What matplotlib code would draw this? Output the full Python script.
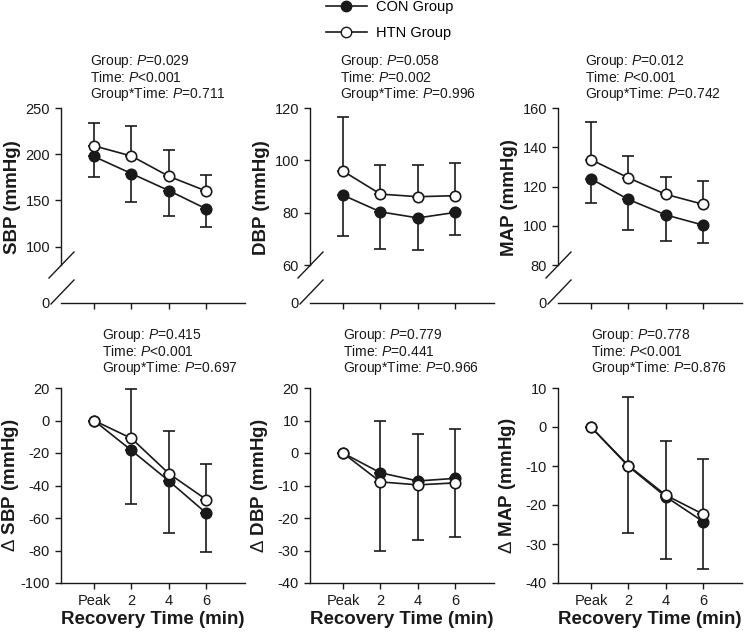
import numpy as np
import matplotlib
matplotlib.use("Agg")
import matplotlib.pyplot as plt
from matplotlib.lines import Line2D

plt.rcParams['font.family'] = ['Liberation Sans', 'DejaVu Sans']
plt.rcParams['mathtext.fontset'] = 'custom'
plt.rcParams['mathtext.rm'] = 'Liberation Sans'
plt.rcParams['mathtext.it'] = 'Liberation Sans:italic'
plt.rcParams['axes.unicode_minus'] = False

# ---- data ----
time_labels = ['Peak', '2', '4', '6']

# absolute values: mean, SD (CON bars drawn downward, HTN bars upward)
sbp_con = [197.5, 179, 160.5, 140.7]
sbp_con_sd = [22.5, 30.4, 27, 19.4]
sbp_htn = [209, 198, 176, 160]
sbp_htn_sd = [25, 32.6, 28, 17.7]

dbp_con = [86.7, 80.3, 78.0, 80.1]
dbp_con_sd = [15.5, 14.2, 12.2, 8.5]
dbp_htn = [95.9, 87.1, 86.1, 86.5]
dbp_htn_sd = [20.5, 11.0, 12.0, 12.3]

map_con = [123.9, 113.4, 105.5, 100.3]
map_con_sd = [12.2, 15.7, 13.5, 9.2]
map_htn = [133.7, 124.4, 116.0, 110.9]
map_htn_sd = [19.4, 11.3, 8.9, 11.8]

# changes from peak
dsbp_con = [0, -18.4, -37.2, -57.1]
dsbp_con_sd = [0, 32.7, 32.3, 24.1]
dsbp_htn = [0, -11.0, -32.7, -48.7]
dsbp_htn_sd = [0, 30.6, 26.2, 21.7]

ddbp_con = [0, -6.1, -8.6, -7.8]
ddbp_con_sd = [0, 16.1, 14.5, 15.2]
ddbp_htn = [0, -8.9, -9.8, -9.2]
ddbp_htn_sd = [0, 21.2, 16.9, 16.5]

dmap_con = [0, -10.1, -17.9, -24.3]
dmap_con_sd = [0, 17.2, 15.9, 12.2]
dmap_htn = [0, -9.9, -17.5, -22.4]
dmap_htn_sd = [0, 17.6, 13.9, 14.3]

stats_top = [('0.029', '<0.001', '0.711'),
             ('0.058', '=0.002', '0.996'),
             ('0.012', '<0.001', '0.742')]
stats_bot = [('0.415', '<0.001', '0.697'),
             ('0.779', '=0.441', '0.966'),
             ('0.778', '<0.001', '0.876')]

# ---- layout (pixels) ----
W, H = 744, 634
col_x = [61, 310, 558]
ax_w = 184
ink = '#1a1a1a'
lw = 1.2

fig = plt.figure(figsize=(W / 100, H / 100), dpi=100)


def px_rect(x, y_top, w, h):
    return [x / W, 1 - (y_top + h) / H, w / W, h / H]


def style(ax):
    for s in ['top', 'right']:
        ax.spines[s].set_visible(False)
    for s in ['left', 'bottom']:
        ax.spines[s].set_linewidth(1.0)
        ax.spines[s].set_color(ink)
    ax.tick_params(direction='out', length=4.3, width=1.0, colors=ink,
                   labelsize=10.5, pad=3.6)
    ax.set_xlim(-0.88, 4.03)


def draw(ax, con, con_sd, htn, htn_sd, con_down=True):
    x = np.arange(len(con))
    con = np.asarray(con); htn = np.asarray(htn)
    z = np.zeros(len(con))
    if con_down:
        ce = [np.asarray(con_sd), z]
        he = [z, np.asarray(htn_sd)]
    else:
        ce = [z, np.asarray(con_sd)]
        he = [np.asarray(htn_sd), z]
    kw = dict(fmt='none', ecolor=ink, elinewidth=lw, capsize=4.3,
              capthick=lw, zorder=1)
    ax.errorbar(x, con, yerr=ce, **kw)
    ax.errorbar(x, htn, yerr=he, **kw)
    ax.plot(x, con, '-o', color=ink, lw=lw, ms=7.5, mfc=ink, mec=ink,
            mew=1.2, zorder=3)
    ax.plot(x, htn, '-o', color=ink, lw=lw, ms=7.5, mfc='white', mec=ink,
            mew=1.2, zorder=4)


def pstats(x0, y0, st):
    lines = [r'Group: $\it{P}$=' + st[0],
             r'Time: $\it{P}$' + st[1],
             r'Group*Time: $\it{P}$=' + st[2]]
    for i, t in enumerate(lines):
        fig.text(x0 / W, 1 - (y0 + i * 16.5) / H, t, fontsize=10,
                 ha='left', va='center', color=ink)


def slash(x0, y0, x1, y1):
    fig.add_artist(Line2D([x0 / W, x1 / W], [1 - y0 / H, 1 - y1 / H],
                          transform=fig.transFigure, color=ink, lw=1.0))


# ---- top row: broken axes ----
top_sets = [
    (sbp_con, sbp_con_sd, sbp_htn, sbp_htn_sd, (80, 250), [100, 150, 200, 250], 'SBP (mmHg)'),
    (dbp_con, dbp_con_sd, dbp_htn, dbp_htn_sd, (60, 120), [60, 80, 100, 120], 'DBP (mmHg)'),
    (map_con, map_con_sd, map_htn, map_htn_sd, (80, 160), [80, 100, 120, 140, 160], 'MAP (mmHg)'),
]
top_text_x = [90, 340, 585]
for i, (c, csd, h, hsd, ylim, yt, lab) in enumerate(top_sets):
    xa = col_x[i]
    up = fig.add_axes(px_rect(xa, 108, ax_w, 157))
    style(up)
    up.spines['bottom'].set_visible(False)
    up.tick_params(axis='x', bottom=False, labelbottom=False)
    up.set_ylim(*ylim)
    up.set_yticks(yt)
    draw(up, c, csd, h, hsd)
    up.set_ylabel(lab, fontsize=13.5, fontweight='bold', color=ink)
    up.yaxis.set_label_coords(-0.215, 0.43)

    lo = fig.add_axes(px_rect(xa, 291, ax_w, 12))
    style(lo)
    lo.spines['left'].set_visible(False)
    lo.set_ylim(0, 1)
    lo.set_yticks([0])
    lo.tick_params(axis='y', length=0, pad=7.9)
    lo.set_xticks(range(len(time_labels)))
    lo.tick_params(axis='x', labelbottom=False)
    lo.patch.set_visible(False)

    slash(xa - 12, 278, xa + 13, 252)
    slash(xa - 10, 304, xa + 13, 280)
    pstats(top_text_x[i], 61, stats_top[i])

# ---- bottom row: changes ----
bot_sets = [
    (dsbp_con, dsbp_con_sd, dsbp_htn, dsbp_htn_sd, (-100, 20), np.arange(-100, 21, 20), r'$\Delta$ SBP (mmHg)', True),
    (ddbp_con, ddbp_con_sd, ddbp_htn, ddbp_htn_sd, (-40, 20), np.arange(-40, 21, 10), r'$\Delta$ DBP (mmHg)', False),
    (dmap_con, dmap_con_sd, dmap_htn, dmap_htn_sd, (-40, 10), np.arange(-40, 11, 10), r'$\Delta$ MAP (mmHg)', True),
]
bot_text_x = [102, 343, 591]
for i, (c, csd, h, hsd, ylim, yt, lab, cd) in enumerate(bot_sets):
    ax = fig.add_axes(px_rect(col_x[i], 388, ax_w, 195))
    style(ax)
    ax.set_ylim(*ylim)
    ax.set_yticks(yt)
    ax.set_xticks(range(len(time_labels)))
    ax.set_xticklabels(time_labels)
    draw(ax, c, csd, h, hsd, con_down=cd)
    ax.set_ylabel(lab, fontsize=13.5, fontweight='bold', color=ink)
    ax.yaxis.set_label_coords(-0.215, 0.5)
    ax.set_xlabel('Recovery Time (min)', fontsize=13.5, fontweight='bold',
                  color=ink, labelpad=2)
    pstats(bot_text_x[i], 335, stats_bot[i])

# ---- legend ----
h_con = Line2D([], [], color=ink, lw=lw, marker='o', ms=7.5, mfc=ink, mec=ink)
h_htn = Line2D([], [], color=ink, lw=lw, marker='o', ms=7.5, mfc='white', mec=ink)
fig.legend([h_con, h_htn], ['CON Group', 'HTN Group'], loc='upper left',
           bbox_to_anchor=(326 / W, 1.0), frameon=False, fontsize=10.5,
           handlelength=2.8, handletextpad=0.6, labelspacing=0.8,
           borderpad=0, borderaxespad=0)

fig.savefig('out.png', dpi=100)
